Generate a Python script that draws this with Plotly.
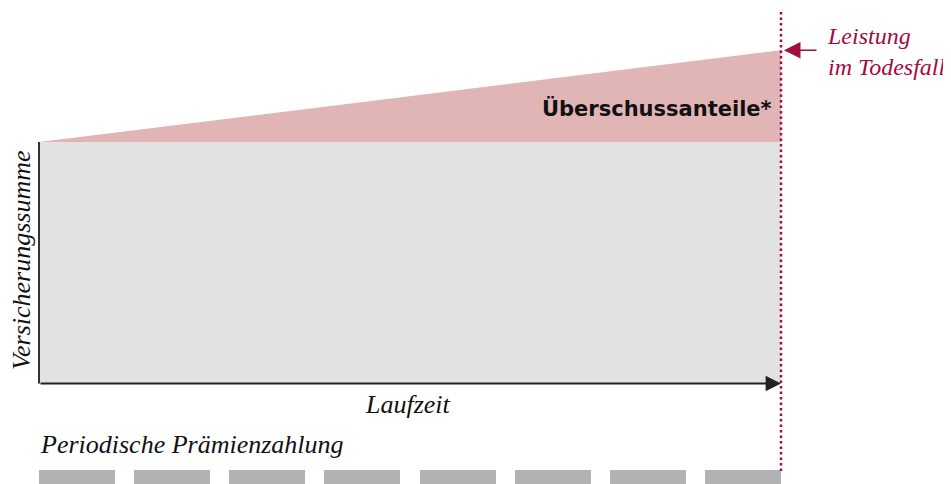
import plotly.graph_objects as go

# ---- data (schematic values) ----
laufzeit_ende = 7.8                 # end of term (in premium periods)
versicherungssumme = 100            # guaranteed sum insured
leistung_todesfall = 138            # benefit incl. surplus at end of term
praemien_zeitpunkte = [0, 1, 2, 3, 4, 5, 6, 7]   # periodic premium payments
praemien_dauer = [0.8] * 8

# ---- layout helpers (reference pixel coords, page has an 8px body margin) ----
OFF = 8
W, H = 951 - OFF, 484 - OFF
X0_PX, XEND_PX = 39, 781
Y0_PX, Y100_PX = 383.5, 142
px_per_x = (XEND_PX - X0_PX) / laufzeit_ende
px_per_y = (Y0_PX - Y100_PX) / versicherungssumme
x_range = [-(X0_PX - OFF) / px_per_x, (W - (X0_PX - OFF)) / px_per_x]
y_range = [-(H - (Y0_PX - OFF)) / px_per_y, (Y0_PX - OFF) / px_per_y]

def xd(px):
    return (px - X0_PX) / px_per_x

def yd(py):
    return (Y0_PX - py) / px_per_y

MAROON = "#a20c40"
SERIF = "Liberation Serif"

fig = go.Figure()

# grey area: guaranteed sum
fig.add_trace(go.Scatter(
    x=[0, laufzeit_ende, laufzeit_ende, 0, 0],
    y=[0, 0, versicherungssumme, versicherungssumme, 0],
    fill="toself", fillcolor="#e2e2e2", mode="lines",
    line=dict(width=0), hoverinfo="skip", showlegend=False))

# pink area: surplus shares
fig.add_trace(go.Scatter(
    x=[0, laufzeit_ende, laufzeit_ende, 0],
    y=[versicherungssumme, leistung_todesfall, versicherungssumme, versicherungssumme],
    fill="toself", fillcolor="#e1b4b6", mode="lines",
    line=dict(width=0), hoverinfo="skip", showlegend=False))

# premium payments
fig.add_trace(go.Bar(
    x=praemien_zeitpunkte, y=[-30] * len(praemien_zeitpunkte),
    base=yd(470), width=praemien_dauer, offset=0,
    marker=dict(color="#b1b2b4", line=dict(width=0)),
    hoverinfo="skip", showlegend=False))

# y axis line
fig.add_trace(go.Scatter(
    x=[0, 0], y=[0, versicherungssumme], mode="lines",
    line=dict(color="#333333", width=2), hoverinfo="skip", showlegend=False))

# dotted end-of-term line
fig.add_trace(go.Scatter(
    x=[laufzeit_ende, laufzeit_ende], y=[yd(12), yd(473)], mode="lines",
    line=dict(color=MAROON, width=2.5, dash="2.5px,3px"),
    hoverinfo="skip", showlegend=False))

annotations = [
    # x axis arrow
    dict(x=laufzeit_ende, y=0, ax=0, ay=0, xref="x", yref="y", axref="x", ayref="y",
         showarrow=True, arrowhead=2, arrowsize=1.4, arrowwidth=2.2,
         arrowcolor="#222222", text=""),
    # Leistung arrow
    dict(x=xd(784), y=leistung_todesfall, ax=xd(818), ay=leistung_todesfall,
         xref="x", yref="y", axref="x", ayref="y",
         showarrow=True, arrowhead=2, arrowsize=2.2, arrowwidth=1.5,
         arrowcolor=MAROON, text=""),
    dict(x=xd(825), y=yd(51), xref="x", yref="y", xanchor="left", yanchor="middle",
         text="<i>Leistung<br>im Todesfall</i>", showarrow=False, align="left",
         font=dict(family=SERIF, size=24, color=MAROON)),
    dict(x=xd(774), y=yd(108), xref="x", yref="y", xanchor="right", yanchor="middle",
         text="<b>Überschussanteile*</b>", showarrow=False,
         font=dict(family="DejaVu Sans", size=21, color="#111111")),
    dict(x=xd(408), y=yd(404), xref="x", yref="y", xanchor="center", yanchor="middle",
         text="<i>Laufzeit</i>", showarrow=False,
         font=dict(family=SERIF, size=26, color="#111111")),
    dict(x=xd(38), y=yd(444), xref="x", yref="y", xanchor="left", yanchor="middle",
         text="<i>Periodische Prämienzahlung</i>", showarrow=False,
         font=dict(family=SERIF, size=26, color="#111111")),
    dict(x=xd(21), y=yd(260), xref="x", yref="y", xanchor="center", yanchor="middle",
         text="<i>Versicherungssumme</i>", showarrow=False, textangle=-90,
         font=dict(family=SERIF, size=26, color="#111111")),
]

fig.update_layout(
    width=W, height=H,
    margin=dict(l=0, r=0, t=0, b=0),
    paper_bgcolor="white", plot_bgcolor="white",
    xaxis=dict(range=x_range, visible=False, fixedrange=True),
    yaxis=dict(range=y_range, visible=False, fixedrange=True),
    annotations=annotations,
    bargap=0,
)

fig.write_html("out.html")
